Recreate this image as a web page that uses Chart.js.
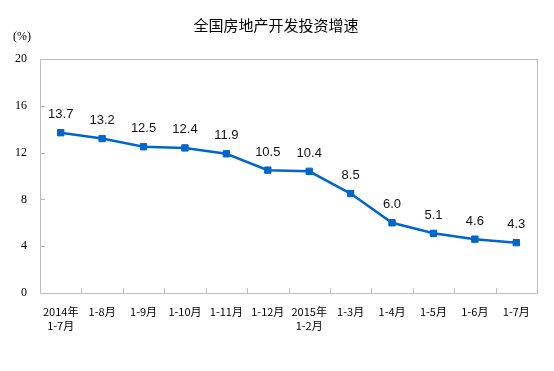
<!DOCTYPE html>
<html>
<head>
<meta charset="utf-8">
<script src="https://cdn.jsdelivr.net/npm/chart.js@4"></script>
<style>
  html, body { margin: 0; padding: 0; background: #fff; }
  #wrap { width: 554px; height: 371px; }
</style>
</head>
<body>
<div id="wrap"><canvas id="chart"></canvas></div>
<script>
// chart data
const periods = [
    ['2014年', '1-7月'], '1-8月', '1-9月', '1-10月', '1-11月', '1-12月',
    ['2015年', '1-2月'], '1-3月', '1-4月', '1-5月', '1-6月', '1-7月'
];
const growth = [13.7, 13.2, 12.5, 12.4, 11.9, 10.5, 10.4, 8.5, 6.0, 5.1, 4.6, 4.3];
const yTicks = [0, 4, 8, 12, 16, 20];

const chartTitle = '全国房地产开发投资增速';
const unitLabel = '(%)';

const blue = '#0066cc';
const axisGray = '#bdbdbd';

// box round the plot, inward tick marks, unit label and value labels
const decorations = {
    id: 'decorations',
    afterDraw(chart) {
        const ctx = chart.ctx;
        const area = chart.chartArea;
        const x = chart.scales.x;
        const y = chart.scales.y;

        ctx.save();
        ctx.strokeStyle = axisGray;
        ctx.lineWidth = 1;
        ctx.beginPath();
        ctx.rect(Math.round(area.left) + 0.5, Math.round(area.top) + 0.5,
                 Math.round(area.right - area.left), Math.round(area.bottom - area.top));

        for (let i = 1; i < periods.length; i++) {
            const px = Math.round((x.getPixelForValue(i - 1) + x.getPixelForValue(i)) / 2) + 0.5;
            ctx.moveTo(px, area.bottom);
            ctx.lineTo(px, area.bottom - 5);
        }
        yTicks.slice(1, -1).forEach((v) => {
            const py = Math.round(y.getPixelForValue(v)) + 0.5;
            ctx.moveTo(area.left, py);
            ctx.lineTo(area.left + 5, py);
        });
        ctx.stroke();

        ctx.fillStyle = '#000';
        ctx.font = '12px "Liberation Serif"';
        ctx.textAlign = 'left';
        ctx.textBaseline = 'middle';
        ctx.fillText(unitLabel, 13, 37);

        const meta = chart.getDatasetMeta(0);
        ctx.font = '13px "Liberation Sans"';
        ctx.textAlign = 'center';
        ctx.fillStyle = '#111';
        meta.data.forEach((pt, i) => {
            ctx.fillText(growth[i].toFixed(1), pt.x, pt.y - 18);
        });
        ctx.restore();
    }
};

new Chart(document.getElementById('chart'), {
    type: 'line',
    data: {
        labels: periods,
        datasets: [{
            data: growth,
            borderColor: blue,
            backgroundColor: blue,
            borderWidth: 2.5,
            pointStyle: 'rect',
            pointRadius: 4.5,
            pointBorderWidth: 1,
            fill: false,
            tension: 0,
        }],
    },
    options: {
        responsive: true,
        maintainAspectRatio: false,
        animation: false,
        layout: { padding: { left: 15, right: 17, top: 0, bottom: 0 } },
        plugins: {
            legend: { display: false },
            tooltip: { enabled: false },
            title: {
                display: true,
                text: chartTitle,
                color: '#000',
                font: { family: '"Noto Sans CJK SC"', size: 15, weight: 'normal', lineHeight: 1.2 },
                padding: { top: 16, bottom: 25 },
            },
        },
        scales: {
            x: {
                offset: true,
                grid: { display: false, drawTicks: false },
                border: { display: false },
                ticks: {
                    autoSkip: false,
                    maxRotation: 0,
                    padding: 11,
                    color: '#000',
                    font: { family: '"Noto Sans CJK SC"', size: 11, lineHeight: 1.35 },
                },
                afterFit(scale) { scale.height = 78; },
            },
            y: {
                min: 0,
                max: 20,
                grid: { display: false, drawTicks: false },
                border: { display: false },
                ticks: {
                    stepSize: 4,
                    padding: 13,
                    color: '#000',
                    font: { family: '"Liberation Serif"', size: 12 },
                },
                afterFit(scale) { scale.width = 25; },
            },
        },
    },
    plugins: [decorations],
});
</script>
</body>
</html>
